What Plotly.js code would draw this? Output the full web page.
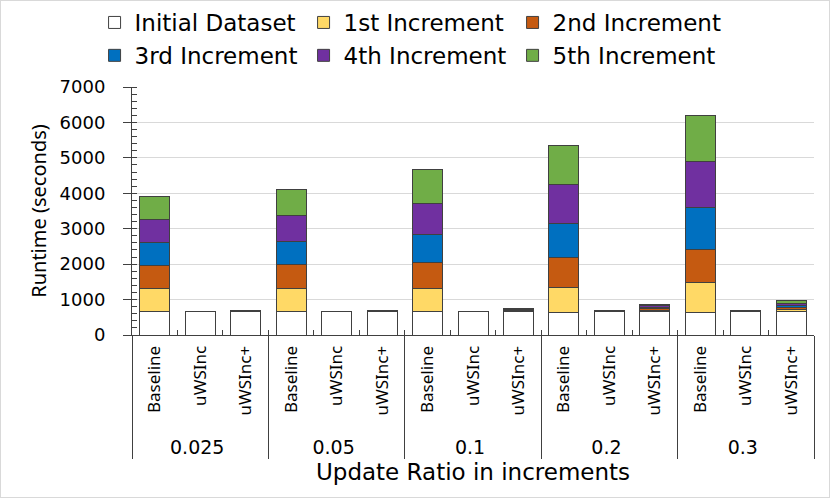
<!DOCTYPE html>
<html>
<head>
<meta charset="utf-8">
<script src="https://cdn.plot.ly/plotly-3.0.1.min.js"></script>
<style>
  body { margin: 0; background: #fff; }
  #chart { width: 828px; height: 496px; border: 1px solid #d9d9d9; }
</style>
</head>
<body>
<div id="chart"></div>
<script>
// update ratios (outer groups) and methods (inner categories)
var groups = ['0.025', '0.05', '0.1', '0.2', '0.3']
var methods = ['Baseline', 'uWSInc', 'uWSInc+']

var seriesNames = ['Initial Dataset', '1st Increment', '2nd Increment',
                   '3rd Increment', '4th Increment', '5th Increment']
var seriesColors = ['#ffffff', '#ffd966', '#c55a11', '#0070c0', '#7030a0', '#70ad47']

// runtime in seconds, per group: [Baseline, uWSInc, uWSInc+]
var initialDataset = [650, 650, 650,  650, 650, 650,  650, 650, 650,  630, 650, 650,  630, 650, 650]
var increment1 = [650, 4, 6,  660, 4, 6,  670, 4, 20,  720, 9, 45,  855, 11, 62]
var increment2 = [650, 4, 6,  670, 4, 6,  735, 4, 20,  840, 9, 45,  930, 11, 62]
var increment3 = [650, 4, 6,  670, 4, 6,  770, 4, 20,  970, 9, 45,  1185, 11, 62]
var increment4 = [660, 4, 6,  715, 4, 6,  885, 4, 20,  1100, 9, 45,  1290, 11, 62]
var increment5 = [660, 4, 6,  730, 4, 6,  950, 4, 20,  1100, 9, 45,  1315, 11, 62]

var allSeries = [initialDataset, increment1, increment2, increment3, increment4, increment5]

// group labels are bigger than the method labels in the original;
// the leading nbsps just push the group row down a bit
var outer = []
var inner = []
groups.forEach(function (g) {
    methods.forEach(function (m) {
        outer.push('<span style="font-size:19px;font-family:DejaVu Sans">' + g + '</span>')
        inner.push('\u00a0\u00a0' + m)
    })
})

var traces = allSeries.map(function (vals, i) {
    return {
        type: 'bar',
        name: seriesNames[i],
        x: [outer, inner],
        y: vals,
        marker: {
            color: seriesColors[i],
            line: { color: '#404040', width: 1 }
        }
    }
})

var layout = {
    width: 828,
    height: 496,
    barmode: 'stack',
    bargap: 0.34,
    paper_bgcolor: '#ffffff',
    plot_bgcolor: '#ffffff',
    margin: { l: 131, r: 15, t: 86, b: 162 },
    font: { family: 'DejaVu Sans', color: '#000000' },
    showlegend: true,
    legend: {
        orientation: 'h',
        xref: 'container',
        yref: 'container',
        x: 0.113,
        xanchor: 'left',
        y: 1,
        yanchor: 'top',
        entrywidth: 164,
        entrywidthmode: 'pixels',
        traceorder: 'normal',
        font: { family: 'DejaVu Sans', size: 23 }
    },
    xaxis: {
        type: 'multicategory',
        tickangle: -90,
        ticks: 'inside',
        ticklen: 5,
        tickcolor: '#404040',
        showline: true,
        linecolor: '#404040',
        linewidth: 1,
        showdividers: true,
        dividercolor: '#404040',
        dividerwidth: 1,
        showgrid: false,
        ticklabelstandoff: 3,
        tickfont: { family: 'Noto Sans', size: 17 },
        title: {
            text: 'Update Ratio in increments',
            font: { family: 'DejaVu Sans', size: 23 },
            standoff: 6
        }
    },
    yaxis: {
        range: [0, 7000],
        dtick: 1000,
        ticks: 'outside',
        ticklen: 8,
        tickcolor: '#404040',
        showline: true,
        linecolor: '#404040',
        linewidth: 1,
        gridcolor: '#d9d9d9',
        zeroline: false,
        ticklabelstandoff: 14,
        tickfont: { family: 'DejaVu Sans', size: 18 },
        minor: { dtick: 200, ticks: 'inside', ticklen: 5, tickcolor: '#404040', showgrid: false },
        title: {
            text: 'Runtime (seconds)',
            font: { family: 'Noto Sans', size: 20 },
            standoff: 7
        }
    }
}

Plotly.newPlot('chart', traces, layout, { displayModeBar: false, staticPlot: true })
</script>
</body>
</html>
